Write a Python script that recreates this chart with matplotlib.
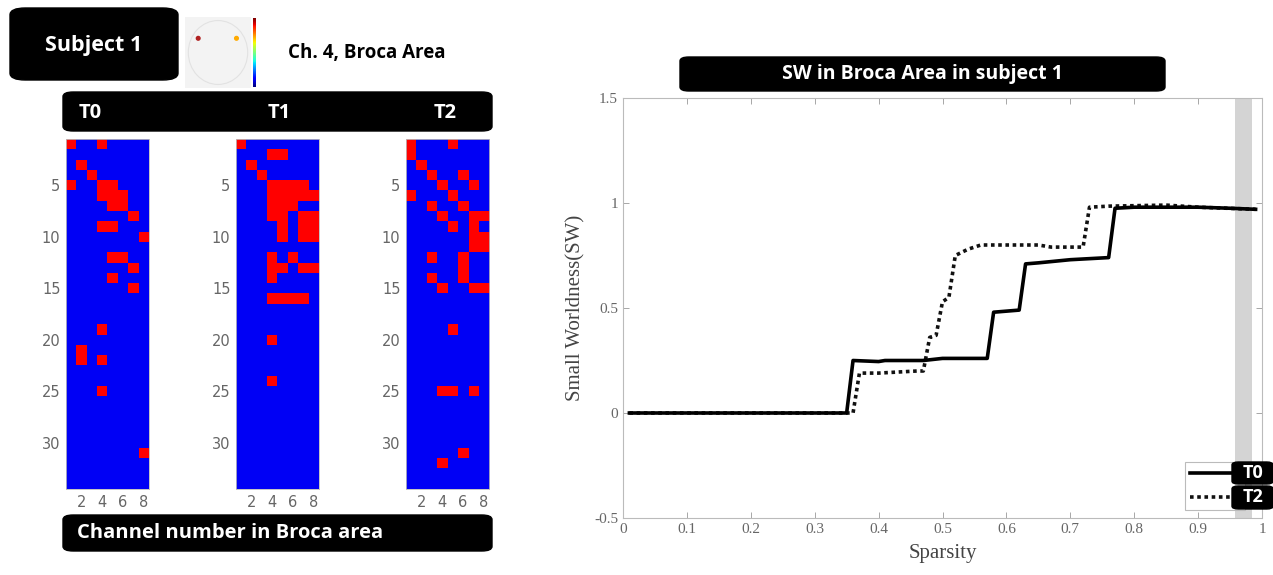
import matplotlib
matplotlib.use("Agg")
import matplotlib.pyplot as plt
import numpy as np
from matplotlib.patches import FancyBboxPatch, Circle
from matplotlib.colors import ListedColormap

# ---------------- data ----------------
n_rows, n_cols = 34, 8
T0_red = {1: [1, 4], 3: [2], 4: [3], 5: [1, 4, 5], 6: [4, 5, 6], 7: [5, 6], 8: [7],
          9: [4, 5], 10: [8], 12: [5, 6], 13: [7], 14: [5], 15: [7], 19: [4],
          21: [2], 22: [2, 4], 25: [4], 31: [8]}
T1_red = {1: [1], 2: [4, 5], 3: [2], 4: [3], 5: [4, 5, 6, 7], 6: [4, 5, 6, 7, 8],
          7: [4, 5, 6], 8: [4, 5, 7, 8], 9: [5, 7, 8], 10: [5, 7, 8], 12: [4, 6],
          13: [4, 5, 7, 8], 14: [4], 16: [4, 5, 6, 7], 20: [4], 24: [4]}
T2_red = {1: [1, 5], 2: [1], 3: [2], 4: [3, 6], 5: [4, 7], 6: [1, 5], 7: [3, 6],
          8: [4, 7, 8], 9: [5, 7], 10: [7, 8], 11: [7, 8], 12: [3, 6], 13: [6],
          14: [3, 6], 15: [4, 7, 8], 19: [5], 25: [4, 5, 7], 31: [6], 32: [4]}
matrix_titles = ["T0", "T1", "T2"]
matrix_xticks = [2, 4, 6, 8]
matrix_yticks = [5, 10, 15, 20, 25, 30]

T0_x = [0.01, 0.35, 0.36, 0.40, 0.41, 0.47, 0.50, 0.57, 0.58, 0.62, 0.63, 0.65,
        0.70, 0.76, 0.77, 0.80, 0.85, 0.90, 0.95, 0.99]
T0_y = [0.00, 0.00, 0.25, 0.245, 0.25, 0.25, 0.26, 0.26, 0.48, 0.49, 0.71, 0.715,
        0.73, 0.74, 0.975, 0.98, 0.98, 0.98, 0.975, 0.97]
T2_x = [0.01, 0.36, 0.37, 0.40, 0.46, 0.47, 0.48, 0.49, 0.50, 0.51, 0.52, 0.54,
        0.56, 0.60, 0.65, 0.67, 0.72, 0.73, 0.76, 0.85, 0.90, 0.99]
T2_y = [0.00, 0.00, 0.19, 0.19, 0.20, 0.20, 0.36, 0.37, 0.53, 0.55, 0.75, 0.78,
        0.80, 0.80, 0.80, 0.79, 0.79, 0.98, 0.985, 0.99, 0.98, 0.97]
shade_range = (0.958, 0.984)
x_ticks = [0, 0.1, 0.2, 0.3, 0.4, 0.5, 0.6, 0.7, 0.8, 0.9, 1]
x_ticklabels = ["0", "0.1", "0.2", "0.3", "0.4", "0.5", "0.6", "0.7", "0.8", "0.9", "1"]
y_ticks = [-0.5, 0, 0.5, 1, 1.5]
y_ticklabels = ["-0.5", "0", "0.5", "1", "1.5"]

# ---------------- figure ----------------
W, H = 1273, 575
fig = plt.figure(figsize=(W / 100, H / 100), dpi=100)
BOLD = ["Open Sans", "DejaVu Sans"]
SERIF = ["Liberation Serif", "DejaVu Serif"]


def fx(px):
    return px / W


def fy(py):
    return 1 - py / H


def black_box(x0, y0, x1, y1, r=0.008):
    p = FancyBboxPatch((fx(x0), fy(y1)), fx(x1) - fx(x0), fy(y0) - fy(y1),
                       boxstyle=f"round,pad=0,rounding_size={r}",
                       transform=fig.transFigure, facecolor="black",
                       edgecolor="black", zorder=5)
    fig.add_artist(p)


# Subject box
black_box(10, 8, 178, 80, r=0.012)
fig.text(fx(94), fy(45), "Subject 1", color="white", fontsize=15.5, fontweight="bold",
         family=BOLD, ha="center", va="center", zorder=6)

# Head icon with colorbar
ax_head = fig.add_axes([fx(185), fy(88), fx(66), fy(17) - fy(88)])
ax_head.set_facecolor("#f3f3f3")
ax_head.set_xlim(0, 1)
ax_head.set_ylim(0, 1)
ax_head.add_patch(Circle((0.5, 0.5), 0.45, fill=False, edgecolor="#e2e2e2", lw=0.8))
ax_head.scatter([0.2, 0.78], [0.7, 0.7], s=7, c=["#b02020", "#ffaa00"], zorder=3)
ax_head.set_xticks([])
ax_head.set_yticks([])
for s in ax_head.spines.values():
    s.set_visible(False)
ax_cb = fig.add_axes([fx(253), fy(87), fx(3), fy(18) - fy(87)])
ax_cb.imshow(np.linspace(1, 0, 100).reshape(-1, 1), cmap="jet", aspect="auto")
ax_cb.axis("off")

fig.text(fx(288), fy(53), "Ch. 4, Broca Area", color="black", fontsize=13.5,
         fontweight="bold", family=BOLD, ha="left", va="center")

# T0 T1 T2 bar
black_box(63, 92, 492, 131, r=0.008)
for lbl, xc in zip(matrix_titles, [90, 279, 445]):
    fig.text(fx(xc), fy(113), lbl, color="white", fontsize=14.5, fontweight="bold",
             family=BOLD, ha="center", va="center", zorder=6)

# Channel number bar
black_box(63, 515, 492, 551, r=0.008)
fig.text(fx(77), fy(533), "Channel number in Broca area", color="white", fontsize=14.5,
         fontweight="bold", family=BOLD, ha="left", va="center", zorder=6)

# Matrices
cmap = ListedColormap(["#0000f5", "#ff0000"])
for red, xl in zip([T0_red, T1_red, T2_red], [66, 236, 406]):
    arr = np.zeros((n_rows, n_cols))
    for r, cols in red.items():
        for c in cols:
            arr[r - 1, c - 1] = 1
    ax = fig.add_axes([fx(xl), fy(489), fx(83), fy(139) - fy(489)])
    ax.imshow(arr, cmap=cmap, vmin=0, vmax=1, aspect="auto", interpolation="nearest",
              extent=(0.5, n_cols + 0.5, n_rows + 0.5, 0.5))
    ax.set_xticks(matrix_xticks)
    ax.set_yticks(matrix_yticks)
    ax.tick_params(length=0, labelsize=10.5, labelcolor="#666666", pad=4)
    for s in ax.spines.values():
        s.set_color("#bbbbbb")
        s.set_linewidth(0.6)

# ---------------- right chart ----------------
ax2 = fig.add_axes([fx(623), fy(518), fx(1262) - fx(623), fy(98) - fy(518)])
ax2.axvspan(shade_range[0], shade_range[1], color="#d4d4d4", zorder=0, lw=0)
l0, = ax2.plot(T0_x, T0_y, color="black", lw=2.6, ls="-", zorder=3)
l2, = ax2.plot(T2_x, T2_y, color="#111111", lw=2.6, ls=(0, (1, 1)), zorder=2)
ax2.set_xlim(0, 1)
ax2.set_ylim(-0.5, 1.5)
ax2.set_xticks(x_ticks)
ax2.set_xticklabels(x_ticklabels)
ax2.set_yticks(y_ticks)
ax2.set_yticklabels(y_ticklabels)
ax2.tick_params(direction="in", top=True, right=True, length=4, width=0.6,
                color="#999999", labelsize=11, labelcolor="#666666")
for t in ax2.get_xticklabels() + ax2.get_yticklabels():
    t.set_family(SERIF)
for s in ax2.spines.values():
    s.set_color("#bbbbbb")
    s.set_linewidth(0.8)
    s.set_linestyle((0, (2, 1)))
ax2.set_xlabel("Sparsity", family=SERIF, fontsize=15, color="#444444", labelpad=6)
ax2.set_ylabel("Small Worldness(SW)", family=SERIF, fontsize=15, color="#444444",
               labelpad=6)

# Title box
black_box(680, 57, 1165, 91, r=0.007)
fig.text(fx(922), fy(74), "SW in Broca Area in subject 1", color="white", fontsize=14,
         fontweight="bold", family=BOLD, ha="center", va="center", zorder=6)

# Legend
leg = ax2.legend([l0, l2], ["", ""], loc="upper left",
                 bbox_to_anchor=(fx(1185), fy(462)), bbox_transform=fig.transFigure,
                 handlelength=3.6, handletextpad=0, borderpad=0.35, labelspacing=0.75,
                 frameon=True, fancybox=False, edgecolor="#bbbbbb", framealpha=1,
                 borderaxespad=0)
leg.get_frame().set_linewidth(0.8)
black_box(1232, 462, 1273, 484, r=0.005)
black_box(1232, 486, 1273, 509, r=0.005)
for lbl, yc in zip(["T0", "T2"], [473, 497]):
    fig.text(fx(1253), fy(yc), lbl, color="white", fontsize=13, fontweight="bold",
             family=BOLD, ha="center", va="center", zorder=6)

fig.savefig("out.png", dpi=100)
